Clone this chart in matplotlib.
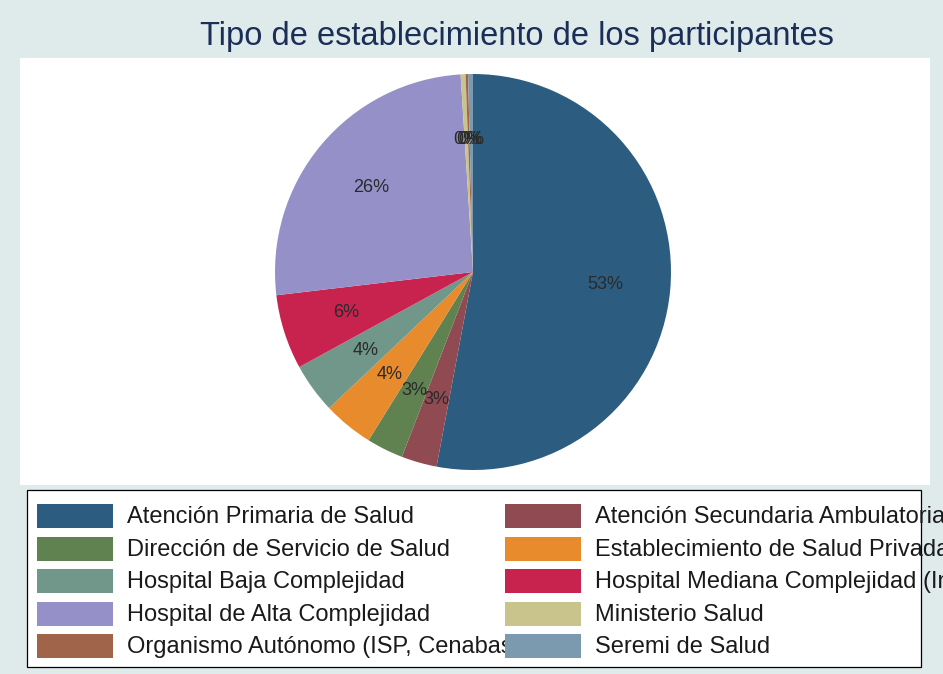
import matplotlib
matplotlib.use('Agg')
import matplotlib.pyplot as plt
from matplotlib.patches import Rectangle

plt.rcParams['font.family'] = ['Liberation Sans', 'DejaVu Sans']

# data: number of participants by type of establishment
categories = [
    'Atención Primaria de Salud',
    'Atención Secundaria Ambulatoria',
    'Dirección de Servicio de Salud',
    'Establecimiento de Salud Privada',
    'Hospital Baja Complejidad',
    'Hospital Mediana Complejidad (Ind',
    'Hospital de Alta Complejidad',
    'Ministerio Salud',
    'Organismo Autónomo (ISP, Cenabast',
    'Seremi de Salud',
]
counts = [530, 29, 30, 41, 41, 61, 259, 4, 2, 4]
colors = ['#2c5d80', '#904a52', '#5f8250', '#e88b2c', '#71968a',
          '#c8234f', '#9690c8', '#c8c48c', '#a0644a', '#7b9aaf']

W, H = 943, 674
fig = plt.figure(figsize=(W / 100, H / 100), dpi=100)
fig.patch.set_facecolor('#dfebeb')

def frac(x0, y0, x1, y1):
    # pixel box (top-left origin) -> figure fraction rect
    return [x0 / W, 1 - y1 / H, (x1 - x0) / W, (y1 - y0) / H]

# plot region
px0, py0, px1, py1 = 20, 58, 930, 485
cx, cy, r = 473, 272, 198
ax = fig.add_axes(frac(px0, py0, px1, py1))
ax.set_facecolor('white')
wedges, texts, autotexts = ax.pie(
    counts, colors=colors, startangle=90, counterclock=False,
    autopct='%1.0f%%', pctdistance=0.67, frame=True,
    wedgeprops=dict(linewidth=0),
    textprops=dict(fontsize=13, color='#2a2a2a'))
ax.set_aspect('auto')
ax.set_xlim((px0 - cx) / r, (px1 - cx) / r)
ax.set_ylim(-(py1 - cy) / r, (cy - py0) / r)
ax.set_xticks([])
ax.set_yticks([])
for s in ax.spines.values():
    s.set_visible(False)

fig.text(517 / W, 1 - 37 / H, 'Tipo de establecimiento de los participantes',
         ha='center', va='center', fontsize=23.5, color='#1a2e58')

# legend drawn in pixel coordinates
lax = fig.add_axes([0, 0, 1, 1])
lax.set_xlim(0, W)
lax.set_ylim(H, 0)
lax.axis('off')
lax.add_patch(Rectangle((27, 490), 894, 177, facecolor='white',
                        edgecolor='black', linewidth=0.9, zorder=0))
col_x = [37, 505]
row_y0, row_dy = 516, 32.6
for i, (lab, c) in enumerate(zip(categories, colors)):
    col = i % 2
    row = i // 2
    y = row_y0 + row * row_dy
    x = col_x[col]
    lax.add_patch(Rectangle((x, y - 12), 76, 24, facecolor=c,
                            edgecolor='none', zorder=2))
    lax.text(x + 90, y + 1, lab, ha='left', va='center', fontsize=17,
             color='#1a1a1a', zorder=1)

fig.savefig('out.png', dpi=100, facecolor=fig.get_facecolor())
